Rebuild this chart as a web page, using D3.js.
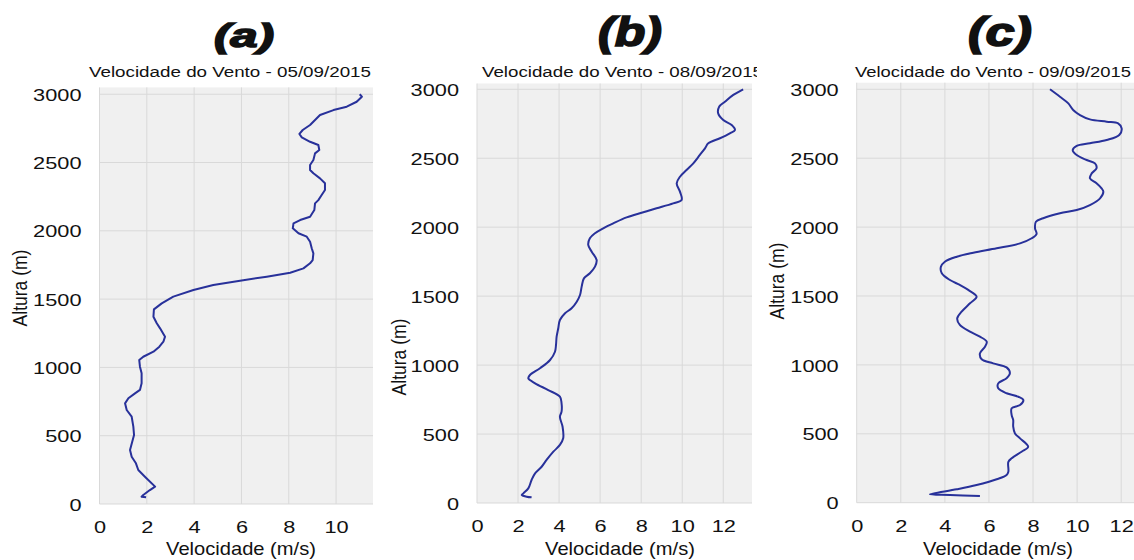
<!DOCTYPE html>
<html>
<head>
<meta charset="utf-8">
<script src="https://cdn.jsdelivr.net/npm/d3@7"></script>
<style>
  body { margin: 0; background: #ffffff; }
  svg { display: block; }
  text { font-family: "Liberation Sans", Arial, sans-serif; fill: #111; }
</style>
</head>
<body>
<svg id="chart" width="1134" height="560"></svg>
<script>
// ---- data: wind speed (m/s) vs height (m), one profile per sounding ----
const xTicksA = [0, 2, 4, 6, 8, 10];
const xTicksBC = [0, 2, 4, 6, 8, 10, 12];
const yTicks = [0, 500, 1000, 1500, 2000, 2500, 3000];
const panelLetters = ["(a)", "(b)", "(c)"];
const panelTitles = [
  "Velocidade do Vento - 05/09/2015",
  "Velocidade do Vento - 08/09/2015",
  "Velocidade do Vento - 09/09/2015"
];
const xLabel = "Velocidade (m/s)";
const yLabel = "Altura (m)";

// [speed, height] pairs, ordered from the top of the sounding downwards
const perfilA = [
  [11.0,3000],[11.09,2982],[10.87,2945],[10.45,2909],[9.89,2884],[9.32,2848],[9.11,2811],
  [8.90,2775],[8.59,2738],[8.45,2709],[8.55,2684],[8.90,2652],[9.25,2628],[9.29,2592],
  [9.11,2567],[9.04,2518],[8.90,2482],[8.90,2445],[9.04,2421],[9.32,2384],[9.53,2348],
  [9.53,2299],[9.39,2262],[9.25,2225],[9.11,2201],[9.08,2152],[8.90,2103],[8.48,2079],
  [8.20,2055],[8.17,2018],[8.41,1982],[8.76,1957],[8.90,1920],[8.97,1872],[9.04,1835],
  [9.01,1786],[8.90,1762],[8.62,1725],[8.06,1693],[7.07,1664],[5.94,1635],[4.81,1603],
  [3.97,1567],[3.12,1518],[2.63,1469],[2.30,1425],[2.28,1371],[2.42,1323],[2.56,1286],
  [2.77,1225],[2.70,1188],[2.53,1152],[2.28,1115],[1.85,1078],[1.68,1054],[1.71,1005],
  [1.78,957],[1.78,884],[1.71,835],[1.50,810],[1.22,774],[1.08,737],[1.15,688],
  [1.36,639],[1.43,566],[1.46,505],[1.29,395],[1.36,346],[1.54,298],[1.64,249],
  [1.92,200],[2.35,127],[2.13,102],[1.85,66],[1.78,53],[1.97,49]
];
const perfilB = [
  [12.97,3000],[12.49,2959],[12.08,2910],[11.80,2874],[11.75,2826],[12.00,2777],[12.41,2741],
  [12.57,2705],[12.32,2681],[11.84,2645],[11.27,2608],[11.11,2572],[10.86,2524],[10.54,2463],
  [10.21,2415],[9.89,2366],[9.73,2318],[9.89,2258],[9.97,2197],[9.56,2173],[8.75,2137],
  [8.02,2105],[7.29,2071],[6.64,2028],[6.15,1992],[5.75,1956],[5.50,1919],[5.42,1871],
  [5.59,1822],[5.83,1762],[5.75,1714],[5.50,1666],[5.21,1629],[5.10,1569],[5.02,1508],
  [4.86,1460],[4.61,1412],[4.29,1376],[4.04,1327],[3.96,1267],[3.88,1206],[3.85,1146],
  [3.80,1097],[3.56,1037],[3.07,977],[2.58,928],[2.50,904],[2.83,868],[3.47,819],
  [4.04,771],[4.12,723],[4.12,662],[4.04,626],[4.17,553],[4.20,469],[4.04,421],
  [3.72,372],[3.39,312],[3.15,263],[2.83,215],[2.66,167],[2.50,106],[2.26,70],
  [2.18,58],[2.42,46],[2.66,41]
];
const perfilC = [
  [8.77,3000],[9.22,2946],[9.60,2898],[9.82,2850],[10.13,2813],[10.58,2782],[11.34,2765],
  [11.86,2753],[12.02,2717],[11.91,2668],[11.34,2632],[10.58,2608],[9.98,2589],[9.80,2559],
  [9.98,2523],[10.43,2487],[10.81,2463],[10.88,2427],[10.66,2390],[10.58,2354],[10.88,2318],
  [11.11,2281],[11.19,2257],[11.04,2209],[10.58,2160],[9.98,2124],[9.22,2100],[8.46,2064],
  [8.13,2039],[8.09,1991],[8.16,1950],[7.94,1919],[7.41,1882],[6.35,1846],[5.29,1814],
  [4.54,1785],[4.00,1749],[3.82,1713],[3.86,1665],[4.23,1616],[4.68,1580],[5.06,1544],
  [5.44,1495],[5.14,1447],[4.76,1386],[4.56,1338],[4.68,1290],[5.14,1241],[5.59,1205],
  [5.90,1168],[5.82,1132],[5.59,1084],[5.67,1041],[6.19,1011],[6.80,982],[6.95,939],
  [6.80,903],[6.42,866],[6.42,830],[6.80,794],[7.33,769],[7.56,745],[7.41,709],
  [7.03,685],[7.03,636],[7.10,600],[7.10,552],[7.18,503],[7.41,467],[7.78,406],
  [7.48,370],[7.03,322],[6.88,297],[6.88,225],[6.80,201],[6.35,170],[5.44,128],
  [4.54,97],[3.32,61],[4.23,56],[5.59,49]
];

// ---- layout of the three panels ----
const panels = [
  { data: perfilA, xTicks: xTicksA, xRange: [99.5, 373], xMax: 11.56, yRange: [504, 87.4], yMax: 3050,
    letterX: 244, letterY: 47, letterSize: 34, letterW: 60, smooth: false,
    titleX: 89, titleW: 282, xLabelX: 241, yLabelX: 21, yLabelY: 288, clipRight: 380 },
  { data: perfilB, xTicks: xTicksBC, xRange: [477, 752], xMax: 13.4, yRange: [503, 83.5], yMax: 3042,
    letterX: 630, letterY: 46, letterSize: 40, letterW: 64, smooth: true,
    titleX: 482, titleW: 281, xLabelX: 620, yLabelX: 400, yLabelY: 357, clipRight: 757 },
  { data: perfilC, xTicks: xTicksBC, xRange: [856.7, 1134], xMax: 12.58, yRange: [502.7, 82.7], yMax: 3048,
    letterX: 1000, letterY: 46, letterSize: 40, letterW: 64, smooth: true,
    titleX: 855, titleW: 276, xLabelX: 998, yLabelX: 778, yLabelY: 281, clipRight: 1134 }
];

const svg = d3.select("#chart");
const defs = svg.append("defs");
const STRETCH = 1.28;   // numerals in this figure are set slightly wide

panels.forEach((p, i) => {
  const x = d3.scaleLinear().domain([0, p.xMax]).range(p.xRange);
  const y = d3.scaleLinear().domain([0, p.yMax]).range(p.yRange);

  const clipId = "clip" + i;
  defs.append("clipPath").attr("id", clipId)
    .append("rect").attr("x", p.xRange[0] - 110).attr("y", 0)
    .attr("width", p.clipRight - (p.xRange[0] - 110)).attr("height", 560);

  const g = svg.append("g").attr("clip-path", `url(#${clipId})`);

  // plot background
  g.append("rect")
    .attr("x", p.xRange[0]).attr("y", p.yRange[1])
    .attr("width", p.xRange[1] - p.xRange[0]).attr("height", p.yRange[0] - p.yRange[1])
    .attr("fill", "#f0f0f0");

  // gridlines
  g.append("g").selectAll("line").data(yTicks).join("line")
    .attr("x1", p.xRange[0]).attr("x2", p.xRange[1])
    .attr("y1", d => y(d)).attr("y2", d => y(d))
    .attr("stroke", "#d9d9d9").attr("stroke-width", 1);
  g.append("g").selectAll("line").data(p.xTicks).join("line")
    .attr("x1", d => x(d)).attr("x2", d => x(d))
    .attr("y1", p.yRange[0]).attr("y2", p.yRange[1])
    .attr("stroke", "#d9d9d9").attr("stroke-width", 1);

  // axes (labels only)
  const yAxis = g.append("g").attr("transform", `translate(${p.xRange[0]},0)`)
    .call(d3.axisLeft(y).tickValues(yTicks).tickSize(0).tickPadding(0).tickFormat(d3.format("d")));
  yAxis.select(".domain").remove();
  yAxis.selectAll("text")
    .attr("x", -18 / STRETCH).attr("dy", "0.36em")
    .attr("transform", `scale(${STRETCH},1)`)
    .style("font-size", "17px").style("fill", "#111");

  const xAxis = g.append("g").attr("transform", `translate(0,${p.yRange[0]})`)
    .call(d3.axisBottom(x).tickValues(p.xTicks).tickSize(0).tickPadding(0).tickFormat(d3.format("d")));
  xAxis.select(".domain").remove();
  xAxis.selectAll("text")
    .attr("y", 23).attr("dy", "0.36em")
    .attr("transform", `scale(${STRETCH},1)`)
    .style("font-size", "17px").style("fill", "#111");

  // wind profile
  const line = d3.line().x(d => x(d[0])).y(d => y(d[1]))
    .curve(p.smooth ? d3.curveCatmullRom.alpha(0.5) : d3.curveLinear);
  g.append("path").datum(p.data)
    .attr("d", line)
    .attr("fill", "none")
    .attr("stroke", "#28319a")
    .attr("stroke-width", 2)
    .attr("stroke-linejoin", "round");

  // title
  g.append("text")
    .attr("x", p.titleX).attr("y", 77)
    .attr("textLength", p.titleW).attr("lengthAdjust", "spacingAndGlyphs")
    .style("font-size", "15.5px")
    .text(panelTitles[i]);

  // panel letter
  g.append("text")
    .attr("x", p.letterX).attr("y", p.letterY)
    .attr("text-anchor", "middle")
    .attr("textLength", p.letterW).attr("lengthAdjust", "spacingAndGlyphs")
    .style("font-size", p.letterSize + "px").style("font-weight", "bold").style("font-style", "italic")
    .style("stroke", "#111").style("stroke-width", "1.6px")
    .text(panelLetters[i]);

  // axis titles
  g.append("text")
    .attr("transform", `translate(${p.xLabelX},555) scale(1.15,1)`)
    .attr("text-anchor", "middle")
    .style("font-size", "17.5px")
    .text(xLabel);
  g.append("text")
    .attr("transform", `translate(${p.yLabelX + 6},${p.yLabelY}) rotate(-90) scale(1,1.15)`)
    .attr("text-anchor", "middle")
    .style("font-size", "17.5px")
    .text(yLabel);
});
</script>
</body>
</html>
